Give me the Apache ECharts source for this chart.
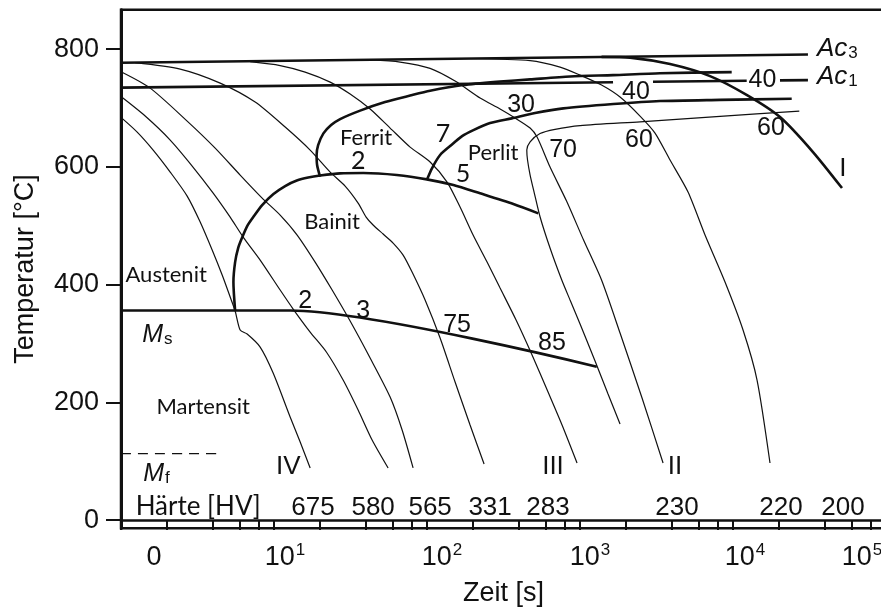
<!DOCTYPE html>
<html>
<head>
<meta charset="utf-8">
<script src="https://cdn.jsdelivr.net/npm/echarts/dist/echarts.min.js"></script>
<style>
  html, body { margin: 0; padding: 0; background: #fff; }
  #chart { width: 881px; height: 610px; }
</style>
</head>
<body>
<div id="chart"></div>
<script>
// ZTU-Schaubild: Zeit [s] (log) gegen Temperatur [°C]
const ac3Line = [[1, 777], [30900, 791]];
const ac1Parts = [
  [[1, 734.7], [1644, 743.8]],
  [[3000, 744.6], [12290, 746.3]],
  [[20280, 746.9], [30900, 747.4]]
];
const msLine = [[1, 356], [12.8, 356], [1287, 260.5]];
const mfLine = [[1, 113], [4.56, 113]];

const ferritStart = [[20.0, 583.2], [19.13, 603.1], [18.99, 620.1], [19.43, 637.0], [21.04, 656.9], [23.63, 671.0],
  [27.05, 681.2], [36.56, 695.6], [53.2, 710.1], [77.6, 721.1], [104.8, 729.3], [172.2, 739.0], [300, 744.9],
  [472, 748.6], [861, 753.4], [1644, 755.9], [3336, 759.0], [9806, 761.0]];
const bainitStart = [[5.57, 355.9], [5.43, 404.3], [5.57, 438.3], [5.83, 462.1], [6.17, 479.1], [6.68, 499.5],
  [7.34, 515.3], [8.37, 535.1], [9.92, 553.8], [11.83, 567.4], [14.10, 576.7], [16.72, 581.8], [20.0, 585.2],
  [27.05, 589.0], [38.4, 589.5], [63.5, 586.1], [99.7, 578.8], [148.8, 569.1], [222.3, 555.0], [366.8, 536.8],
  [534, 521.0]];
const perlitStart = [[99.7, 577.6], [108.0, 598.0], [121.8, 620.1], [141.5, 635.3], [169.6, 652.3], [201.0, 662.5],
  [258.4, 674.4], [358.1, 682.4], [508.5, 691.4], [778.4, 699.4], [1652, 706.7], [3336, 711.8], [8227, 713.8],
  [24190, 715.7]];
const perlitEnd = [[27120, 694.8], [8227, 685.8], [2468, 676.6], [1001, 670.1], [687, 663.7], [548, 656.6],
  [472, 642.6], [449, 628.5], [454, 611.6], [472, 586.1], [501, 557.2], [548, 515.3], [637, 462.1], [760, 407.7],
  [861, 373.8], [1001, 333.0], [1254, 270.2], [1525, 214.1], [1827, 163.2]];

// Abkühlkurven, benannt nach der Härte am Ende
const cool675 = [[1, 684.1], [1.276, 659.1], [1.623, 628.5], [2.097, 591.2], [2.707, 550.4], [3.293, 506.3],
  [3.944, 458.7], [4.584, 416.2], [5.171, 378.9], [5.574, 355.1], [6.009, 322.8], [6.676, 316.0], [8.121, 293.9],
  [9.874, 249.8], [12.75, 175.1], [14.83, 132.6], [17.23, 88.5]];
const cool580 = [[1, 719.4], [1.439, 686.3], [2.097, 645.5], [2.919, 601.4], [4.004, 555.5], [5.171, 514.7],
  [6.286, 480.8], [8.121, 441.7], [10.97, 390.8], [13.34, 358.5], [17.23, 319.4], [21.99, 285.5], [28.30, 237.9],
  [35.47, 187.0], [43.78, 136.0], [55.69, 88.5]];
const cool565 = [[1, 761.5], [1.551, 733.8], [2.707, 677.8], [4.126, 631.9], [6.009, 586.1], [8.367, 547.0],
  [10.97, 518.1], [14.17, 484.2], [18.57, 438.3], [23.99, 390.8], [31.45, 338.1], [42.49, 275.3], [57.41, 209.0],
  [68.77, 153.0], [81.12, 88.5]];
const cool331 = [[1.238, 777.0], [2.437, 766.1], [4.448, 742.3], [7.531, 710.1], [11.83, 667.6], [17.23, 628.5],
  [23.28, 591.2], [29.17, 567.4], [35.47, 538.5], [40.00, 514.7], [44.44, 501.2], [51.68, 485.9], [60.04, 470.6],
  [69.82, 450.2], [79.90, 421.3], [97.19, 373.8], [121.8, 309.2], [152.6, 234.5], [191.2, 161.5], [236.1, 95.2]];
const cool283 = [[6.985, 778.7], [10.97, 772.1], [15.98, 761.0], [23.28, 744.0], [31.45, 723.7], [42.49, 698.2],
  [57.41, 665.9], [77.55, 633.6], [104.8, 608.2], [135.3, 574.2], [164.5, 531.7], [200.1, 484.2], [247.0, 438.3],
  [300.4, 394.1], [382.1, 339.8], [486.1, 280.4], [618.3, 217.5], [763.2, 161.5], [956.5, 96.9]];
const cool230 = [[42.49, 782.1], [66.73, 778.0], [104.8, 767.3], [152.6, 745.7], [222.3, 716.9], [300.4, 698.2],
  [376.4, 682.9], [472, 665.9], [524.1, 650.6], [637, 599.7], [816.7, 541.9], [1055, 475.7], [1383, 407.7],
  [1827, 317.7], [2544, 207.3], [3491, 96.9]];
const cool220 = [[191.2, 784.1], [472, 780.5], [740.8, 769.5], [1001, 755.9], [1383, 739.0], [1827, 718.6],
  [2468, 686.3], [3093, 657.4], [3877, 611.6], [5083, 557.2], [6564, 484.2], [8868, 404.3], [11630, 322.8],
  [14360, 237.9], [17450, 96.9]];
const cool200 = [[1383, 786.8], [2123, 785.6], [3877, 774.6], [7077, 754.2], [12350, 721.9], [20290, 684.6],
  [33330, 625.2], [51570, 564.0]];

// Beschriftungen im Diagramm [Zeit, Temperatur]
const regionLabels = [
  { name: 'Austenit', value: [1.973, 416.2] },
  { name: 'Martensit', value: [3.444, 192.1] },
  { name: 'Ferrit', value: [40.0, 648.9] },
  { name: 'Bainit', value: [23.99, 506.3] },
  { name: 'Perlit', value: [270.3, 623.4] }
];
const phaseShares = [
  { name: '2', value: [35.47, 609.9] },
  { name: '7', value: [127.4, 655.7] },
  { name: '5', value: [172.2, 587.8] }
];
const shareLabels = [
  { name: '30', value: [411.9, 705.0] },
  { name: '70', value: [774.9, 628.5] },
  { name: '40', value: [2323, 727.6] },
  { name: '60', value: [2430, 645.5] },
  { name: '40', value: [15580, 748.0] },
  { name: '60', value: [17710, 665.9] },
  { name: '2', value: [15.98, 372.1] },
  { name: '3', value: [38.23, 355.1] },
  { name: '75', value: [157.3, 331.3] },
  { name: '85', value: [656.3, 300.8] }
];
const curveNames = [
  { name: 'I', value: [52340, 596.3] },
  { name: 'II', value: [4181, 90.1] },
  { name: 'III', value: [666.2, 90.1] },
  { name: 'IV', value: [12.38, 90.1] }
];
const hardness = [
  { name: '675', value: [18.0, 20.5] },
  { name: '580', value: [44.44, 20.5] },
  { name: '565', value: [104.8, 20.5] },
  { name: '331', value: [258.4, 20.5] },
  { name: '283', value: [618.3, 20.5] },
  { name: '230', value: [4306, 20.5] },
  { name: '220', value: [20580, 20.5] },
  { name: '200', value: [52340, 20.5] }
];
const hardnessTitle = [{ name: 'Härte [HV]', value: [3.194, 22.2] }];
const symbolLabels = [
  { name: '{m|M}{s|s}', value: [1.375, 314] },
  { name: '{m|M}{s|f}', value: [1.397, 78] },
  { name: '{a|Ac}{s|3}', value: [35350, 801] },
  { name: '{a|Ac}{s|1}', value: [35350, 752.5] }
];

// Achsen
const xTicks = [1, 2, 4, 6, 8, 10, 20, 40, 60, 80, 100, 200, 400, 600, 800, 1000, 2000, 4000, 6000, 8000,
  10000, 20000, 40000, 60000, 80000, 100000];
const xLabelValues = [1, 10, 100, 1000, 10000, 100000];
const xLabelBase = ['0', '10', '10', '10', '10', '10'];
const xLabelExp = ['', '1', '2', '3', '4', '5'];
const yTicks = [0, 200, 400, 600, 800];

const INK = '#111';
const ARIAL = 'Liberation Sans, Arial, sans-serif';
const CALIBRI = 'Lato, Noto Sans, sans-serif';

// im Original sitzen die Exponenten-Beschriftungen etwas neben ihren Strichen
const xLabelShift = [33, 11, 15, 10, 12, -24];
const xRich = {};
xLabelShift.forEach((s, i) => {
  xRich['b' + i] = { fontSize: 27, fontFamily: ARIAL, color: INK, lineHeight: 30, padding: [0, 0, 0, s > 0 ? 2 * s : 0] };
  xRich['e' + i] = { fontSize: 17, fontFamily: ARIAL, color: INK, verticalAlign: 'top', lineHeight: 18,
    padding: [0, s < 0 ? -2 * s : 0, 0, 1] };
});

function curve(data, width) {
  return {
    type: 'line', data: data, symbol: 'none', smooth: 0.25, silent: true,
    lineStyle: { color: INK, width: width }
  };
}
function textSeries(data, label) {
  return {
    type: 'scatter', data: data, symbolSize: 0, silent: true, clip: false,
    itemStyle: { opacity: 1 },
    label: Object.assign({ show: true, position: 'inside', color: INK, opacity: 1, formatter: (p) => p.name }, label)
  };
}

const chart = echarts.init(document.getElementById('chart'));
const series = [
  curve(ac3Line, 2.6),
  ...ac1Parts.map((d) => curve(d, 2.6)),
  curve(msLine, 2.6),
  Object.assign(curve(mfLine, 1.2), { lineStyle: { color: INK, width: 1.2, type: [10, 7] } }),
  curve(ferritStart, 2.6),
  curve(bainitStart, 2.6),
  curve(perlitStart, 2.6),
  curve(perlitEnd, 1.2),
  curve(cool675, 1.2),
  curve(cool580, 1.2),
  curve(cool565, 1.2),
  curve(cool331, 1.2),
  curve(cool283, 1.2),
  curve(cool230, 1.2),
  curve(cool220, 1.2),
  curve(cool200, 2.6),
  textSeries(regionLabels, { fontFamily: CALIBRI, fontSize: 22 }),
  textSeries(phaseShares, { fontFamily: CALIBRI, fontSize: 25 }),
  textSeries(shareLabels, { fontFamily: ARIAL, fontSize: 25 }),
  textSeries(curveNames, { fontFamily: ARIAL, fontSize: 26 }),
  textSeries(hardness, { fontFamily: ARIAL, fontSize: 26 }),
  textSeries(hardnessTitle, { fontFamily: CALIBRI, fontSize: 26 }),
  textSeries(symbolLabels, {
    position: 'right', distance: 0,
    rich: {
      m: { fontFamily: ARIAL, fontStyle: 'italic', fontSize: 25, color: INK },
      a: { fontFamily: ARIAL, fontStyle: 'italic', fontSize: 26, color: INK },
      s: { fontFamily: ARIAL, fontSize: 17, color: INK, padding: [9, 0, 0, 1] }
    }
  })
];

chart.setOption({
  animation: false,
  backgroundColor: '#fff',
  grid: {
    left: 121, top: 9.7, width: 765, height: 518.6, outerBoundsMode: 'none', containLabel: false,
    show: true, borderColor: INK, borderWidth: 2.5, backgroundColor: 'transparent'
  },
  xAxis: {
    type: 'log', logBase: 10, min: 1, max: 100000,
    name: 'Zeit [s]', nameLocation: 'middle', nameGap: 52,
    nameTextStyle: { fontFamily: ARIAL, fontSize: 27, color: INK },
    axisLine: { show: true, lineStyle: { color: INK, width: 2.5 } },
    axisTick: { show: true, customValues: xTicks, length: 10, inside: false, lineStyle: { color: INK, width: 2 } },
    minorTick: { show: false },
    splitLine: { show: false },
    axisLabel: {
      customValues: xLabelValues, margin: 14, rich: xRich,
      formatter: (v) => {
        const i = xLabelValues.findIndex((x) => Math.abs(Math.log10(x) - Math.log10(v)) < 1e-6);
        if (i < 0) return '';
        return '{b' + i + '|' + xLabelBase[i] + '}' + (xLabelExp[i] ? '{e' + i + '|' + xLabelExp[i] + '}' : '');
      }
    }
  },
  yAxis: {
    type: 'value', min: -14, max: 867,
    name: 'Temperatur [°C]', nameLocation: 'middle', nameGap: 82, nameRotate: 90,
    nameTextStyle: { fontFamily: ARIAL, fontSize: 27, color: INK },
    axisLine: { show: true, lineStyle: { color: INK, width: 3 } },
    axisTick: { show: true, customValues: yTicks, length: 15, inside: false, lineStyle: { color: INK, width: 2 } },
    splitLine: { show: false },
    axisLabel: { customValues: yTicks, margin: 22, fontFamily: ARIAL, fontSize: 27, color: INK }
  },
  series: series
});
</script>
</body>
</html>
